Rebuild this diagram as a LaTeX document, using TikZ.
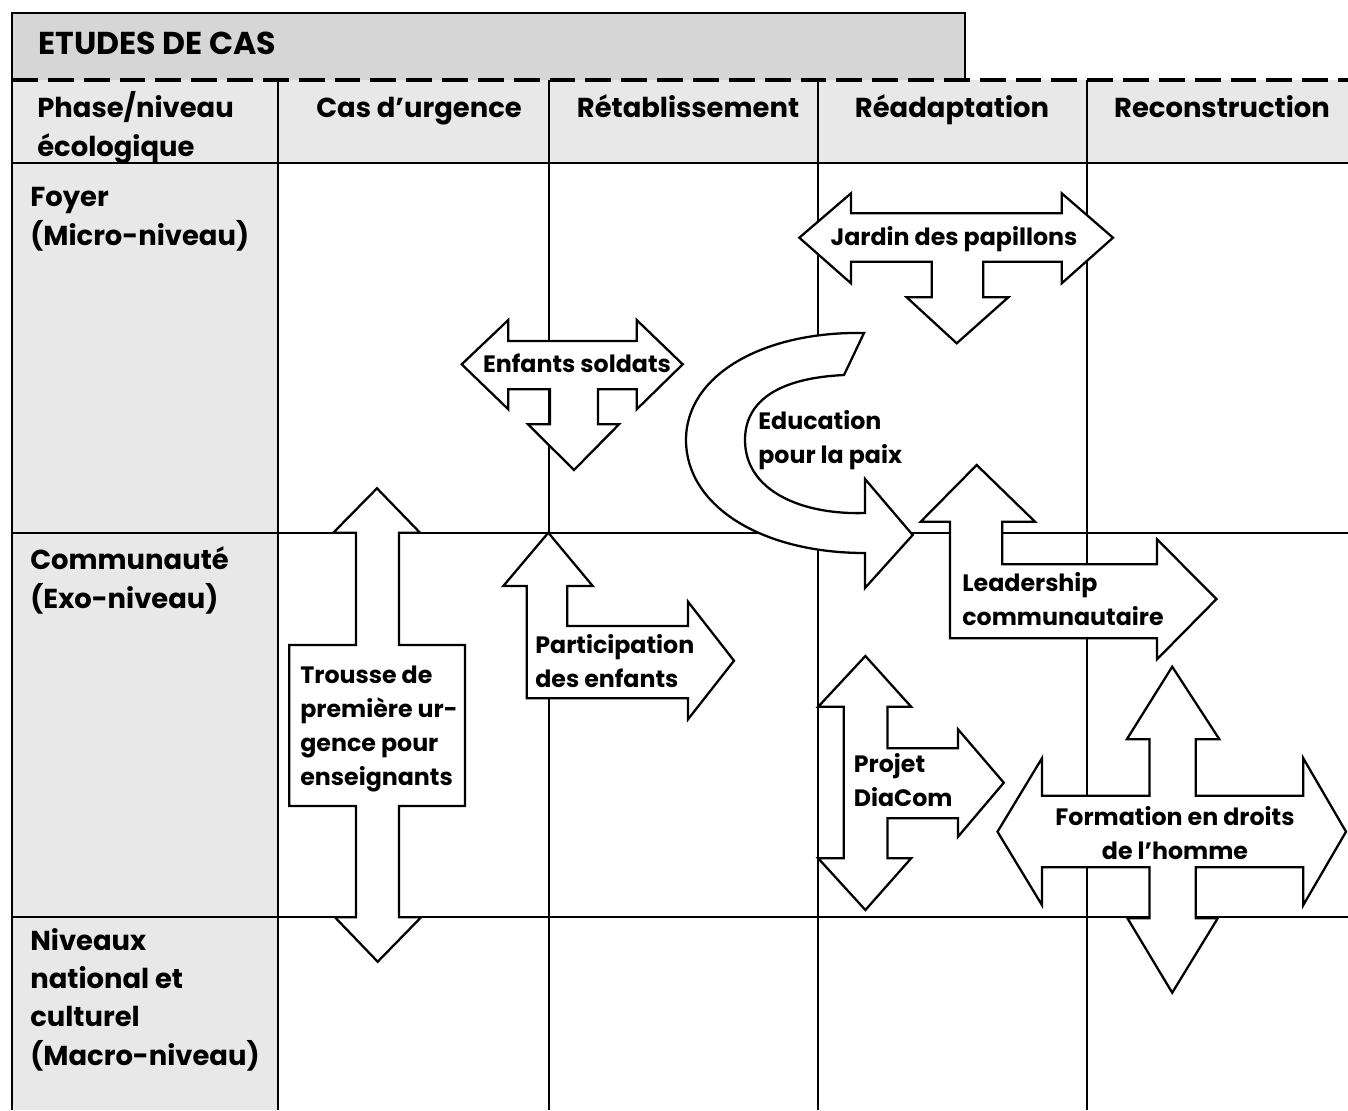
\documentclass[tikz,border=0pt]{standalone}
\usepackage{fontspec}
\setmainfont{Poppins}
\usepackage{tikz}
\usetikzlibrary{positioning}
\definecolor{titlegrey}{gray}{0.84}
\definecolor{cellgrey}{gray}{0.91}
\newcommand{\titletxt}{\fontsize{18}{22}\selectfont\bfseries}
\newcommand{\bigtxt}{\fontsize{15.6}{21.8}\selectfont\bfseries}
\newcommand{\smalltxt}{\fontsize{13.5}{19.3}\selectfont\bfseries}

\begin{document}
\begin{tikzpicture}[x=0.02cm, y=-0.02cm,
    tablerule/.style={line width=1.3pt},
    blockarrow/.style={draw, fill=white, line width=1.3pt, line join=miter},
    headtxt/.style={font=\bigtxt, inner sep=0pt, anchor=base},
    leveltxt/.style={font=\bigtxt, inner sep=0pt, anchor=base west, align=left},
    arrowtxt/.style={font=\smalltxt, inner sep=0pt, anchor=base west, align=left}]
\useasboundingbox (0,0) rectangle (1348,1110);

% Title box and grey cells
\filldraw[fill=titlegrey, line width=1.6pt] (12,80) -- (12,13) -- (965,13) -- (965,80);
\fill[cellgrey] (12,80) rectangle (1348,163);
\fill[cellgrey] (12,163) rectangle (278,1110);

% Table rules
\draw[line width=2.3pt, dash pattern=on 14.7pt off 5.7pt] (12,80) -- (1348,80);
\draw[tablerule] (12,13) -- (12,1110);
\foreach \y in {163,533,917}
    \draw[tablerule] (12,\y) -- (1348,\y);
\foreach \x in {278,549,818,1087}
    \draw[tablerule] (\x,80) -- (\x,1110);

% Headings (multi-line nodes sit on their last baseline)
\node[font=\titletxt, inner sep=0pt, anchor=base west] (etudes) at (38,54) {ETUDES DE CAS};
\node[leveltxt] (hphase) at (37,156) {Phase/niveau\\écologique};
\node[headtxt] (hurgence) at (419,117) {Cas d’urgence};
\node[headtxt] (hretab) at (688,117) {Rétablissement};
\node[headtxt] (hreadapt) at (952,117) {Réadaptation};
\node[headtxt] (hrecons) at (1222,117) {Reconstruction};

% Ecological levels
\node[leveltxt] (lfoyer) at (30,245) {Foyer\\(Micro-niveau)};
\node[leveltxt] (lcommu) at (30,608) {Communauté\\(Exo-niveau)};
\node[leveltxt] (lniveaux) at (30,1065) {Niveaux\\national et\\culturel\\(Macro-niveau)};

% Enfants soldats
\draw[blockarrow] (461.7,364.3) -- (508.3,320) -- (508.3,341) -- (636.7,341) -- (636.7,320)
    -- (682.7,364.3) -- (636.7,409.3) -- (636.7,389.3) -- (598,389.3) -- (598,424.3)
    -- (619,424.3) -- (574,470) -- (528,424.3) -- (550,424.3) -- (550,389.3)
    -- (508.3,389.3) -- (508.3,409.3) -- cycle;
\node[arrowtxt, anchor=base] (tenfants) at (577,372) {Enfants soldats};

% Jardin des papillons
\draw[blockarrow] (799.3,237.7) -- (851,193.3) -- (851,213.3) -- (1061.7,213.3) -- (1061.7,193.3)
    -- (1113,237.7) -- (1061.7,283.3) -- (1061.7,261.7) -- (983.3,261.7) -- (983.3,297.3)
    -- (1008.3,297.3) -- (956.7,343.3) -- (906.7,297.3) -- (931.7,297.3) -- (931.7,261.7)
    -- (851,261.7) -- (851,283.3) -- cycle;
\node[arrowtxt, anchor=base] (tjardin) at (954,245) {Jardin des papillons};

% Education pour la paix (text box hides the rule inside the bend)
\fill[white] (750,372) rectangle (870,516);
\draw[blockarrow] (864,333) .. controls (765,331) and (686,374) .. (686,440)
    .. controls (686,505) and (760,553) .. (865,553) -- (865,588) -- (912.7,535)
    -- (865,479) -- (865,513) .. controls (800,515) and (745,490) .. (745,440)
    .. controls (745,400) and (780,378) .. (844,375) -- cycle;
\node[arrowtxt] (teducation) at (758,463) {Education\\pour la paix};

% Trousse de premiere urgence
\draw[blockarrow] (377,488.3) -- (420,532.7) -- (399,532.7) -- (399,645) -- (465,645)
    -- (465,806) -- (399,806) -- (399,917.3) -- (421,917.3) -- (377.7,961.7)
    -- (335,917.3) -- (356,917.3) -- (356,806) -- (289.3,806) -- (289.3,645)
    -- (356,645) -- (356,532.7) -- (333.3,532.7) -- cycle;
\node[arrowtxt] (ttrousse) at (300,785) {Trousse de\\première ur-\\gence pour\\enseignants};

% Participation des enfants
\draw[blockarrow] (548.3,532.7) -- (592.7,586) -- (567.3,586) -- (567.3,626) -- (688,626)
    -- (688,601.7) -- (734,660.7) -- (688,719.3) -- (688,698.3) -- (526.7,698.3)
    -- (526.7,586) -- (503.3,586) -- cycle;
\node[arrowtxt] (tparticip) at (535,687.5) {Participation\\des enfants};

% Leadership communautaire
\draw[blockarrow] (976.7,465) -- (1035,521.7) -- (1002.3,521.7) -- (1002.3,564.3) -- (1157,564.3)
    -- (1157,539.3) -- (1216.5,599) -- (1157,659.3) -- (1157,638.3) -- (950,638.3)
    -- (950,521.7) -- (920.7,521.7) -- cycle;
\node[arrowtxt] (tleader) at (962,625) {Leadership\\communautaire};

% Projet DiaCom
\draw[blockarrow] (865.4,656) -- (911.1,706.7) -- (887.4,706.7) -- (887.4,748.3) -- (958,748.3)
    -- (958,729.3) -- (1003.8,782.7) -- (958,836.7) -- (958,818.3) -- (887.4,818.3)
    -- (887.4,858.3) -- (911.1,858.3) -- (865.4,910) -- (818.2,858.3) -- (843.7,858.3)
    -- (843.7,706.7) -- (818.2,706.7) -- cycle;
\node[arrowtxt] (tprojet) at (853.5,806.7) {Projet\\DiaCom};

% Formation en droits de l'homme
\draw[blockarrow] (997.5,831.7) -- (1041.9,758.3) -- (1041.9,795.7) -- (1149.5,795.7)
    -- (1149.5,739.3) -- (1126.8,739.3) -- (1172.2,666.7) -- (1219.4,739.3) -- (1195.7,739.3)
    -- (1195.7,795.7) -- (1303.3,795.7) -- (1303.3,758.3) -- (1346,831.7) -- (1303.3,905)
    -- (1303.3,867.3) -- (1195.7,867.3) -- (1195.7,918.3) -- (1217.7,918.3) -- (1172.2,992.7)
    -- (1127.5,918.3) -- (1149.5,918.3) -- (1149.5,867.3) -- (1041.9,867.3) -- (1041.9,905) -- cycle;
\node[arrowtxt, anchor=base, align=center] (tformation) at (1175,859.3) {Formation en droits\\de l’homme};
\end{tikzpicture}
\end{document}
